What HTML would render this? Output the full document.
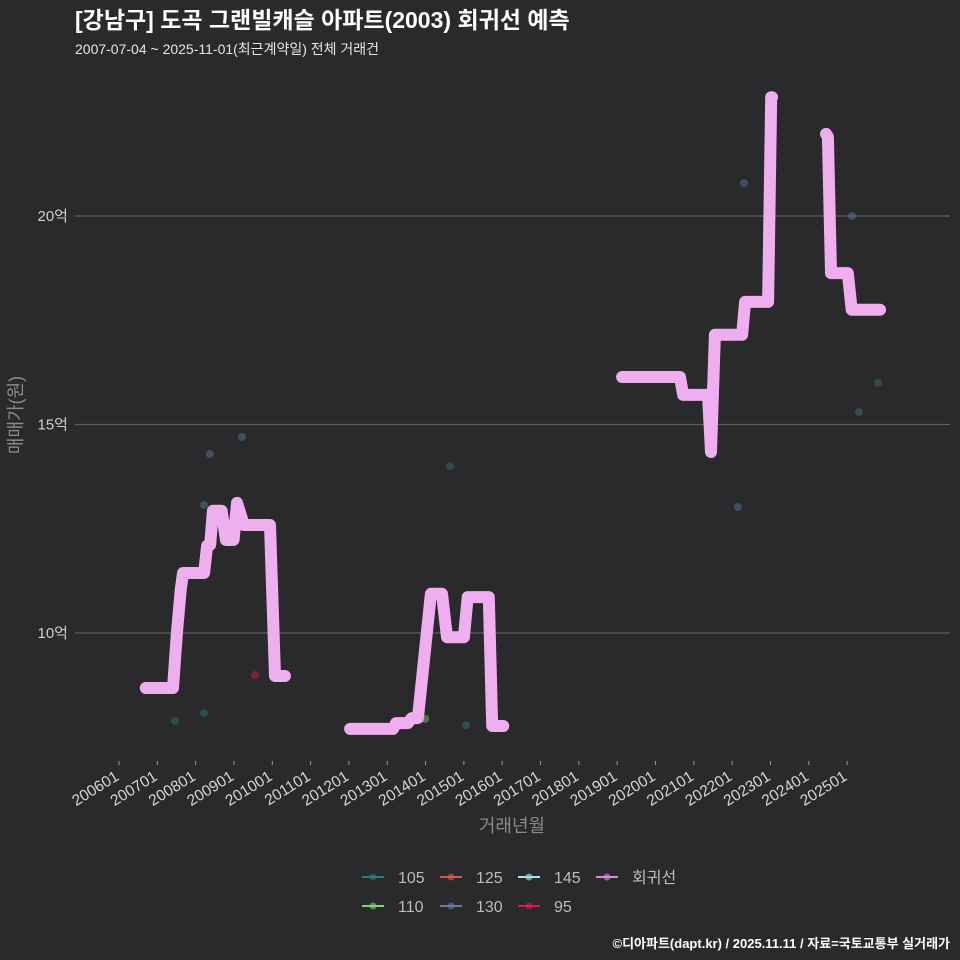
<!DOCTYPE html>
<html><head><meta charset="utf-8"><style>
body{margin:0;background:#2a292b;}
svg{display:block;font-family:"Liberation Sans","Noto Sans CJK KR",sans-serif;}
</style></head><body>
<svg id="c" width="960" height="960" viewBox="0 0 960 960">
<rect width="960" height="960" fill="#2a292b"/>
<text x="75" y="28" font-size="23" font-weight="bold" fill="#fff">[강남구] 도곡 그랜빌캐슬 아파트(2003) 회귀선 예측</text>
<text x="75" y="54" font-size="14" fill="#e6e6e6">2007-07-04 ~ 2025-11-01(최근계약일) 전체 거래건</text>
<g id="grid"></g><g id="xt"></g><g id="pts"></g><g id="line"></g>
<text transform="translate(22,415) rotate(-90)" text-anchor="middle" font-size="18" fill="#8a8a8a">매매가(원)</text>
<text x="512" y="832" text-anchor="middle" font-size="18" fill="#8a8a8a">거래년월</text>
<g id="legend"></g>
<text x="950" y="948" text-anchor="end" font-size="13" font-weight="bold" fill="#fff">©디아파트(dapt.kr) / 2025.11.11 / 자료=국토교통부 실거래가</text>
</svg>
<script>
const yTicks=[10,15,20];
const yTickLabels=["10억","15억","20억"];
const xTickYears=[2006,2007,2008,2009,2010,2011,2012,2013,2014,2015,2016,2017,2018,2019,2020,2021,2022,2023,2024,2025];
const segT=[
[2006.70,2007.41,2007.51,2007.61,2007.67,2008.22,2008.30,2008.38,2008.45,2008.68,2008.79,2008.99,2009.08,2009.26,2009.94,2010.07,2010.33],
[2012.03,2013.15,2013.23,2013.54,2013.64,2013.80,2014.14,2014.43,2014.56,2015.00,2015.10,2015.65,2015.74,2016.03],
[2019.13,2020.64,2020.72,2021.37,2021.45,2021.55,2022.26,2022.34,2022.94,2023.02,2023.04],
[2024.45,2024.50,2024.58,2025.02,2025.12,2025.86]];
const segV=[
[8.68,8.68,10.0,11.03,11.44,11.44,12.09,12.12,12.93,12.93,12.23,12.23,13.12,12.59,12.59,8.97,8.97],
[7.70,7.70,7.84,7.84,7.96,7.96,10.94,10.94,9.90,9.90,10.86,10.86,7.77,7.77],
[16.14,16.14,15.71,15.71,14.34,17.15,17.15,17.94,17.94,22.85,22.85],
[21.97,21.90,18.63,18.63,17.75,17.75]];
const ptT=[2008.22,2008.37,2009.21,2007.46,2008.22,2009.55,2014.64,2013.99,2015.06,2022.31,2022.15,2025.13,2025.81,2025.31];
const ptV=[13.07,14.29,14.70,7.89,8.08,8.99,14.00,7.94,7.79,20.79,13.02,20.0,16.0,15.3];
const ptType=["130","130","130","105","105","95","105","110","105","130","130","130","105","105"];
const colors={"105":"#2e7f73","110":"#7cd66a","125":"#d8574c","130":"#5f7ea8","145":"#a6e6e6","95":"#e0195a","회귀선":"#d58ee0"};
const legendKeys=["105","125","145","회귀선","110","130","95"];
const NS="http://www.w3.org/2000/svg";
function X(t){return 119+(t-2006)*38.32;}
function Y(v){return 633-(v-10)*41.7;}
function mk(tag,attrs,parent){const e=document.createElementNS(NS,tag);for(const k in attrs)e.setAttribute(k,attrs[k]);document.getElementById(parent).appendChild(e);return e;}
yTicks.forEach((v,i)=>{
 const l=mk("line",{x1:75,x2:950,y1:Y(v),y2:Y(v),stroke:"#5e5e5e","stroke-width":1.2},"grid");
 
 
 const t=mk("text",{x:68,y:Y(v)+5,"text-anchor":"end","font-size":15,fill:"#cfcfcf"},"grid");
 t.textContent=yTickLabels[i];
 
 
});
xTickYears.forEach(yr=>{
 const x=X(yr);
 const tk=mk("line",{x1:x,x2:x,y1:761,y2:765,stroke:"#9a9a9a","stroke-width":1},"xt");
 
 
 const t=mk("text",{transform:`translate(${x+1},${779}) rotate(-32)`,"text-anchor":"end","font-size":15.5,fill:"#d6d6d6"},"xt");
 t.textContent=yr+"01";
 
 
});
ptT.forEach((t,i)=>{
 const c=mk("circle",{cx:X(t),cy:Y(ptV[i]),r:4,fill:colors[ptType[i]],"fill-opacity":0.45},"pts");
 
 
});
segT.forEach((ts,s)=>{
 const d=ts.map((t,i)=>(i?"L":"M")+X(t).toFixed(1)+","+Y(segV[s][i]).toFixed(1)).join(" ");
 const p=mk("path",{d:d,fill:"none",stroke:"#efaef0","stroke-width":12,"stroke-linecap":"round","stroke-linejoin":"round"},"line");
 
 
});
const lx=[362,440,518,596],ly=[877,906];
legendKeys.forEach((k,i)=>{
 const x=lx[i%4],y=ly[Math.floor(i/4)];
 const g=mk("g",{},"legend");
 
 
 const l=document.createElementNS(NS,"line");l.setAttribute("x1",x);l.setAttribute("x2",x+22);l.setAttribute("y1",y);l.setAttribute("y2",y);l.setAttribute("stroke",colors[k]);l.setAttribute("stroke-width",2);g.appendChild(l);
 const c=document.createElementNS(NS,"circle");c.setAttribute("cx",x+11);c.setAttribute("cy",y);c.setAttribute("r",3.5);c.setAttribute("fill",colors[k]);c.setAttribute("fill-opacity",0.6);g.appendChild(c);
 const t=document.createElementNS(NS,"text");t.setAttribute("x",x+36);t.setAttribute("y",y+6);t.setAttribute("font-size",16);t.setAttribute("fill","#bdbdbd");t.textContent=k;g.appendChild(t);
});
</script>
</body></html>
